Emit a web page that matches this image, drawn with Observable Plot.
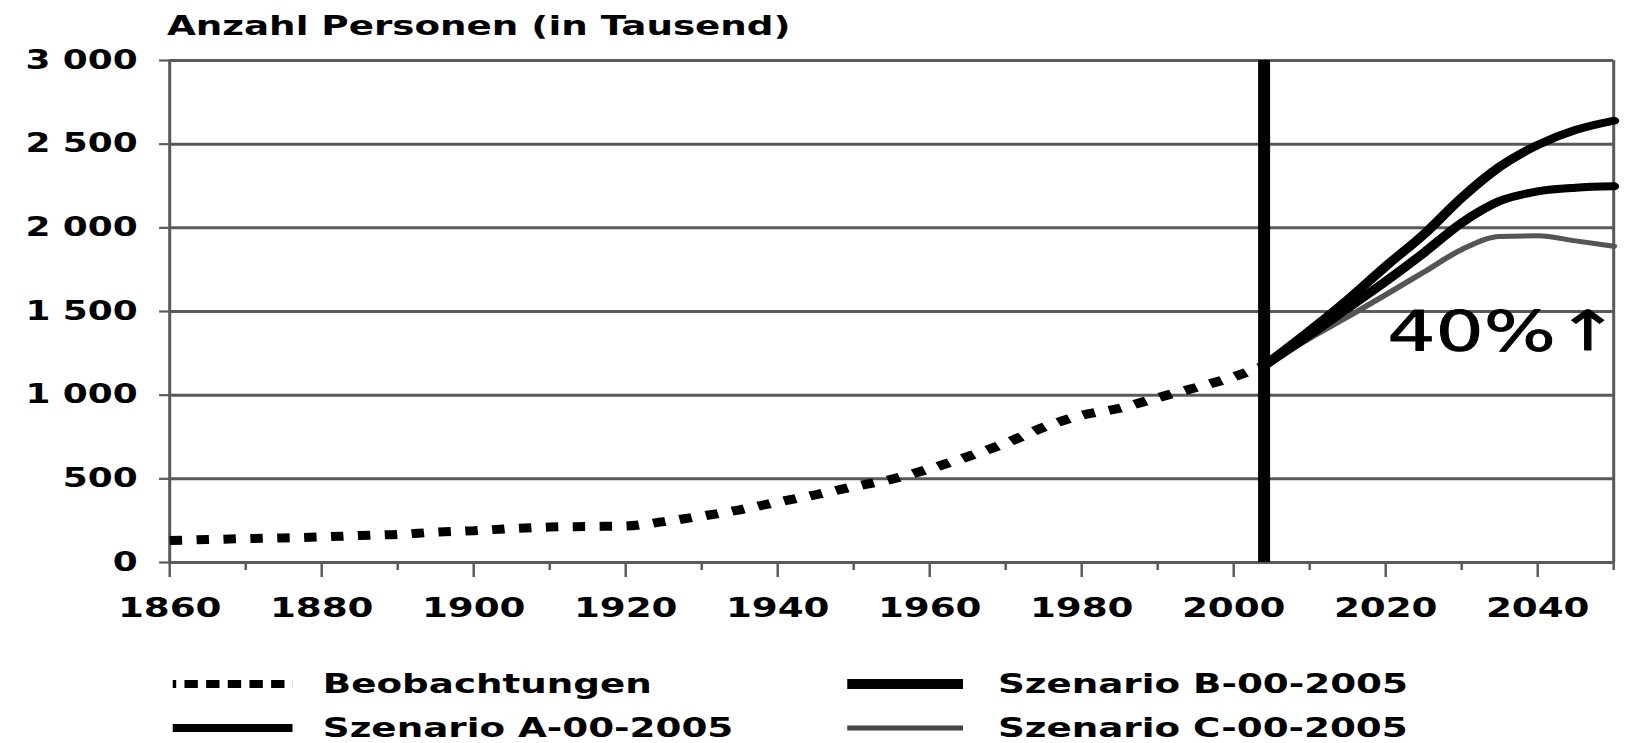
<!DOCTYPE html>
<html><head><meta charset="utf-8">
<script src="https://cdn.jsdelivr.net/npm/d3@7"></script>
<script src="https://cdn.jsdelivr.net/npm/@observablehq/plot@0.6"></script>
<style>
html,body{margin:0;padding:0;background:#fff;overflow:hidden;}
#wrap{position:relative;width:1180px;height:743px;transform:scaleX(1.3797);transform-origin:0 0;font-family:"DejaVu Sans",sans-serif;color:#000;}
#title{position:absolute;left:121px;top:12px;font-size:27px;font-weight:bold;line-height:27px;white-space:nowrap;}
#chart{position:absolute;left:0;top:45px;}
.sw{position:absolute;height:30px;}
.lt{position:absolute;height:30px;line-height:30px;font-size:27px;font-weight:bold;white-space:nowrap;}
</style></head>
<body><div id="wrap"><div id="title">Anzahl Personen (in Tausend)</div><div id="chart"></div><div id="legend"></div></div>
<script>
// ---- data ----
const obsYears  = [1860,1865,1870,1875,1880,1885,1890,1895,1900,1905,1910,1915,1920,1925,1930,1935,1940,1945,1950,1955,1960,1965,1970,1975,1980,1985,1990,1995,2000,2004];
const obsValues = [131, 137, 143, 147, 153, 161, 168, 181, 190, 203, 212, 215, 218, 244, 277, 315, 361, 405, 453, 498, 560, 633, 713, 808, 880, 922, 985,1045,1110,1175];
const scenYears = [2004,2010,2015,2020,2025,2030,2035,2040,2045,2050];
const scenA     = [1175,1360,1520,1680,1850,2030,2160,2218,2240,2248];
const scenB     = [1175,1385,1570,1770,1960,2180,2365,2495,2585,2640];
const scenC     = [1175,1340,1468,1600,1735,1870,1948,1952,1922,1890];
const yTicks = [0,500,1000,1500,2000,2500,3000];
const xMajorTicks = [1860,1880,1900,1920,1940,1960,1980,2000,2020,2040];
const xMinorTicks = [1870,1890,1910,1930,1950,1970,1990,2010,2030,2050];
const baseYear = [2004];
const annotText = ["40%↑"];
const annotX = [2020.2];
const annotY = [1375];
const legendLabels = ["Beobachtungen","Szenario A-00-2005","Szenario B-00-2005","Szenario C-00-2005"];

// ---- build ----
const obs = obsYears.map((year,i)=>({year, value: obsValues[i]}));
const mk = arr => scenYears.map((year,i)=>({year, value: arr[i]}));
const fmt = d => d3.format(",")(d).replace(/,/g," ");
const grey = "#5a5a5a";

const plot = Plot.plot({
  width: 1180, height: 590,
  marginLeft: 122.5, marginRight: 10.9, marginTop: 15, marginBottom: 73,
  x: {domain: [1860, 2050]},
  y: {domain: [0, 3000]},
  style: {fontFamily: '"DejaVu Sans", sans-serif', background: "white", overflow: "visible", color: "black"},
  marks: [
    Plot.gridY(yTicks, {stroke: grey, strokeOpacity: 1, strokeWidth: 3}),
    Plot.ruleX([1860, 2050], {y1: 0, y2: 3000, stroke: grey, strokeWidth: 2.2}),
    Plot.axisY(yTicks, {tickSize: 7.2, tickPadding: 16, tickFormat: fmt, fontSize: 26, fontWeight: "bold", stroke: grey, fill: "black", strokeWidth: 2.2, label: null}),
    Plot.axisX(xMajorTicks, {tickSize: 15, tickPadding: 20, tickFormat: d => String(d), fontSize: 27, fontWeight: "bold", stroke: grey, fill: "black", strokeWidth: 1.8, label: null}),
    Plot.axisX(xMinorTicks, {tickSize: 8, tickFormat: () => "", stroke: grey, strokeWidth: 1.8, label: null}),
    Plot.line(obs, {x: "year", y: "value", stroke: "black", strokeWidth: 9, strokeDasharray: "9,10.5", strokeLinecap: "butt", strokeLinejoin: "miter", curve: "monotone-x"}),
    Plot.line(mk(scenC), {x: "year", y: "value", stroke: "#555", strokeWidth: 5, curve: "monotone-x"}),
    Plot.line(mk(scenA), {x: "year", y: "value", stroke: "black", strokeWidth: 8, curve: "monotone-x"}),
    Plot.line(mk(scenB), {x: "year", y: "value", stroke: "black", strokeWidth: 8, curve: "monotone-x"}),
    Plot.ruleX(baseYear, {y1: 0, y2: 3000, stroke: "black", strokeWidth: 8.7}),
    Plot.text(annotText, {x: annotX, y: annotY, text: d => d, textAnchor: "start", fontSize: 55, fill: "black", stroke: "black", strokeWidth: 0.8})
  ]
});
document.getElementById("chart").appendChild(plot);

// ---- legend ----
const legendStyles = [
  {dash: "9.7,6", offset: 7, color: "black", width: 8},
  {dash: null, color: "black", width: 8},
  {dash: null, color: "black", width: 10},
  {dash: null, color: "#444", width: 5}
];
const legendPos = [
  {sx: 124.7, sw: 87.7, tx: 234,   cy: 684},
  {sx: 124.7, sw: 87.7, tx: 234,   cy: 728},
  {sx: 613.9, sw: 84,   tx: 723.3, cy: 684},
  {sx: 613.9, sw: 84,   tx: 723.3, cy: 728}
];
const leg = document.getElementById("legend");
legendLabels.forEach((lab, i) => {
  const p = legendPos[i], s = legendStyles[i];
  const svg = document.createElementNS("http://www.w3.org/2000/svg", "svg");
  svg.setAttribute("class", "sw");
  svg.setAttribute("width", p.sw); svg.setAttribute("height", 30);
  svg.style.left = p.sx + "px"; svg.style.top = (p.cy - 15) + "px";
  const ln = document.createElementNS("http://www.w3.org/2000/svg", "line");
  ln.setAttribute("x1", 0); ln.setAttribute("x2", p.sw);
  ln.setAttribute("y1", 15); ln.setAttribute("y2", 15);
  ln.setAttribute("stroke", s.color); ln.setAttribute("stroke-width", s.width);
  if (s.dash) { ln.setAttribute("stroke-dasharray", s.dash); ln.setAttribute("stroke-dashoffset", s.offset); }
  svg.appendChild(ln);
  leg.appendChild(svg);
  const t = document.createElement("div");
  t.className = "lt"; t.textContent = lab;
  t.style.left = p.tx + "px"; t.style.top = (p.cy - 15) + "px";
  leg.appendChild(t);
});
</script>
</body></html>
